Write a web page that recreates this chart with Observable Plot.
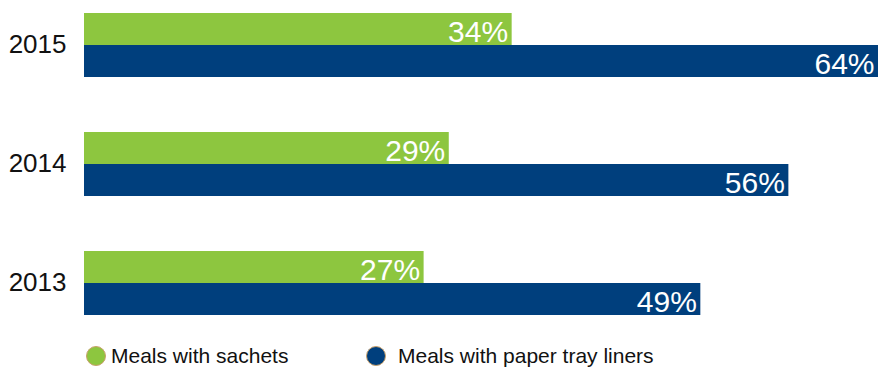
<!DOCTYPE html>
<html>
<head>
<meta charset="utf-8">
<script src="https://cdn.jsdelivr.net/npm/d3@7"></script>
<script src="https://cdn.jsdelivr.net/npm/@observablehq/plot@0.6"></script>
<style>
  html, body { margin: 0; padding: 0; background: #fff; }
  body { width: 878px; height: 367px; overflow: hidden; font-family: "Liberation Sans", Arial, Helvetica, sans-serif; }
  #chart svg { display: block; overflow: hidden; }
  .legend { position: relative; height: 37px; }
  .item { position: absolute; top: 14px; height: 24px; display: flex; align-items: center; font-size: 21px; color: #111; }
  .dot { width: 18px; height: 18px; border-radius: 50%; border: 1.5px solid #c9a06a; box-sizing: content-box; }
</style>
</head>
<body>
<div id="chart"></div>
<div class="legend" id="legend"></div>
<script>
const years = ["2015", "2014", "2013"];
const seriesKeys = ["sachets", "liners"];
const seriesNames = ["Meals with sachets", "Meals with paper tray liners"];
const seriesColors = ["#8dc63f", "#003f7d"];
const sachets = [34, 29, 27];
const liners = [64, 56, 49];

const data = [];
years.forEach((yr, i) => {
  data.push({year: yr, series: "sachets", value: sachets[i]});
  data.push({year: yr, series: "liners", value: liners[i]});
});

const W = 878, H = 330;
const xRange = [84, 889];
const xDomain = [0, 64];
const xVisibleMax = xDomain[0] + (xDomain[1] - xDomain[0]) * (W - xRange[0]) / (xRange[1] - xRange[0]);

const chart = Plot.plot({
  width: W,
  height: H,
  marginTop: 12,
  marginBottom: 15,
  marginLeft: 84,
  marginRight: 0,
  style: {fontFamily: "'Liberation Sans', Arial, Helvetica, sans-serif", background: "#fff"},
  x: {domain: xDomain, range: xRange, axis: null},
  y: {domain: seriesKeys, padding: 0, axis: null},
  fy: {domain: years, paddingInner: 0.454, paddingOuter: 0, label: null},
  color: {domain: seriesKeys, range: seriesColors},
  marks: [
    Plot.axisFy({anchor: "left", tickSize: 0, tickPadding: 18, fontSize: 26, label: null, fill: "#111"}),
    Plot.barX(data, {fy: "year", y: "series", x: "value", fill: "series"}),
    Plot.text(data, {
      fy: "year", y: "series",
      x: d => Math.min(d.value, xVisibleMax),
      text: d => d.value + "%",
      textAnchor: "end", lineAnchor: "middle",
      dx: -4, dy: 3,
      fill: "white", fontSize: 30
    })
  ]
});
document.getElementById("chart").append(chart);

const legend = document.getElementById("legend");
const legendX = [86, 366];
const legendGap = [5, 12];
seriesNames.forEach((name, i) => {
  const item = document.createElement("div");
  item.className = "item";
  item.style.left = legendX[i] + "px";
  const dot = document.createElement("span");
  dot.className = "dot";
  dot.style.background = seriesColors[i];
  dot.style.marginRight = legendGap[i] + "px";
  const label = document.createElement("span");
  label.textContent = name;
  item.append(dot, label);
  legend.append(item);
});
</script>
</body>
</html>
